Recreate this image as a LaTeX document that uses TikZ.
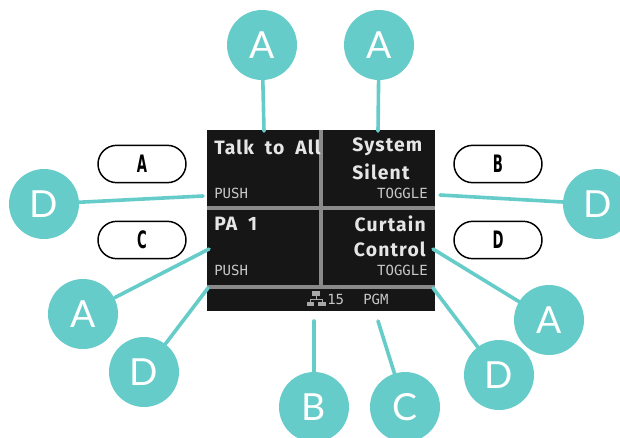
\documentclass[tikz,border=0pt]{standalone}
\usepackage{fontspec}
\setmainfont{Lato}
\newfontfamily\screenfont{DejaVu Sans Mono}
\newfontfamily\bigfont[LetterSpace=6,WordSpace=1.9]{Fira Sans}
\newfontfamily\pillfont{DejaVu Sans}
\definecolor{teal1}{HTML}{66CCCA}
\definecolor{panel}{HTML}{161616}
\definecolor{rulegray}{HTML}{8A8A8A}
\definecolor{big}{HTML}{E6E6E6}
\definecolor{small}{HTML}{C8C8C8}
\definecolor{icongray}{HTML}{A8A8A8}
\tikzset{
  x=0.75pt,y=-0.75pt,
  callout/.style={circle,fill=teal1,draw=none,text=white,minimum size=52.5pt,inner sep=0pt,font=\fontsize{28}{28}\selectfont},
  wire/.style={draw=teal1,line width=2.7pt,line cap=round},
  pill/.style={rounded corners=14pt,draw=black,fill=white,line width=1.1pt,minimum width=66pt,minimum height=28pt,inner sep=0pt,font=\pillfont\bfseries\fontsize{18}{18}\selectfont},
  bigtxt/.style={inner sep=0pt,text=big,font=\bigfont\bfseries\fontsize{14.5}{19}\selectfont},
  smalltxt/.style={inner sep=0pt,text=small,font=\screenfont\fontsize{10.5}{12}\selectfont},
  divider/.style={draw=rulegray,line width=2.3pt},
}
\begin{document}
\begin{tikzpicture}
\useasboundingbox (0,0) rectangle (620,437);
\fill[white] (0,0) rectangle (620,437);
% free ends
\coordinate (e1) at (264,131);
\coordinate (e2) at (378,131);
\coordinate (e3) at (203,196);
\coordinate (e4) at (440,195);
\coordinate (e5) at (209,249);
\coordinate (e6) at (208,288);
\coordinate (e7) at (314,321);
\coordinate (e8) at (378,321);
\coordinate (e9) at (433,288);
\coordinate (e10) at (433,249);
% callouts
\node[callout] (a1) at (262,45) {A};
\node[callout] (a2) at (379,45) {A};
\node[callout] (d1) at (44,204) {D};
\node[callout] (d2) at (598,204) {D};
\node[callout] (a3) at (83,314) {A};
\node[callout] (d3) at (144,372) {D};
\node[callout] (b1) at (314,407) {B};
\node[callout] (c1) at (405,407) {C};
\node[callout] (d4) at (499,375) {D};
\node[callout] (a4) at (549,320) {A};
% panel
\fill[panel] (207,130) rectangle (435,311);
\draw[divider] (207,208) -- (435,208);
\draw[divider] (207,287) -- (435,287);
\draw[divider] (321,130) -- (321,287);
% connectors
\draw[wire] (a1) -- (e1);
\draw[wire] (a2) -- (e2);
\draw[wire] (d1) -- (e3);
\draw[wire] (d2) -- (e4);
\draw[wire] (a3) -- (e5);
\draw[wire] (d3) -- (e6);
\draw[wire] (b1) -- (e7);
\draw[wire] (c1) -- (e8);
\draw[wire] (d4) -- (e9);
\draw[wire] (a4) -- (e10);
% pills
\node[pill] (pa) at (142,164) {\scalebox{0.55}[1]{A}};
\node[pill] (pc) at (142,240) {\scalebox{0.55}[1]{C}};
\node[pill] (pb) at (498,164) {\scalebox{0.55}[1]{B}};
\node[pill] (pd) at (498,240) {\scalebox{0.55}[1]{D}};
% texts
\node[bigtxt,anchor=west] (t1) at (214,147) {Talk to All};
\node[bigtxt,anchor=west] (t2) at (352,147) {System};
\node[bigtxt,anchor=west] (t2b) at (352,172) {Silent};
\node[bigtxt,anchor=west] (t3) at (214,224) {PA 1};
\node[bigtxt,anchor=east] (t4) at (426,224) {Curtain};
\node[bigtxt,anchor=east] (t4b) at (426,249) {Control};
\node[smalltxt,anchor=west] (s1) at (214,193) {PUSH};
\node[smalltxt,anchor=east] (s2) at (428,193) {TOGGLE};
\node[smalltxt,anchor=west] (s3) at (214,270) {PUSH};
\node[smalltxt,anchor=east] (s4) at (428,270) {TOGGLE};
\node[smalltxt,anchor=west] (n15) at (327,299) {15};
\node[smalltxt,anchor=west] (pgm) at (363,299) {PGM};
% network icon
\fill[icongray] (312,291) rectangle (320,296);
\fill[icongray] (307,302) rectangle (314,306);
\fill[icongray] (318,302) rectangle (326,306);
\draw[icongray,line width=0.7pt] (316,296) -- (316,299.5) (310.5,302) -- (310.5,299.5) -- (322,299.5) -- (322,302);
\end{tikzpicture}
\end{document}
